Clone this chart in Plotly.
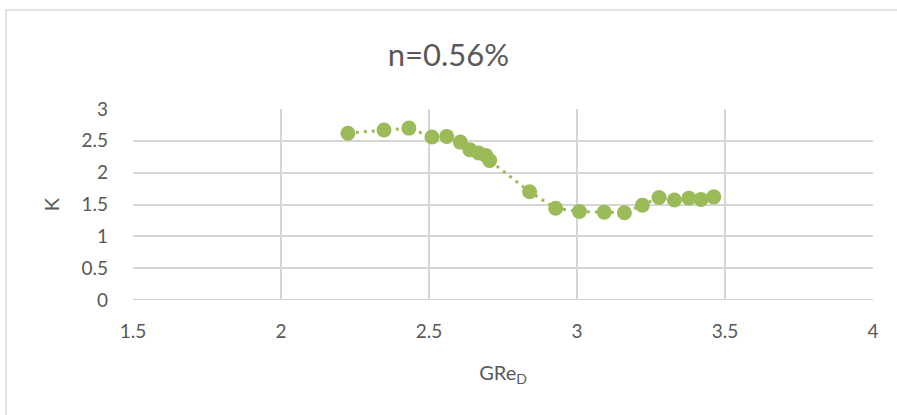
import plotly.graph_objects as go

x_vals = [2.226, 2.348, 2.432, 2.51, 2.56, 2.606, 2.638, 2.668, 2.692, 2.705, 2.84, 2.928, 3.008, 3.092, 3.16, 3.221, 3.277, 3.329, 3.378, 3.419, 3.462]
k_vals = [2.62, 2.67, 2.70, 2.56, 2.57, 2.48, 2.36, 2.31, 2.27, 2.19, 1.70, 1.44, 1.39, 1.38, 1.37, 1.49, 1.61, 1.57, 1.60, 1.58, 1.62]

x_ticks = [1.5, 2, 2.5, 3, 3.5, 4]
y_ticks = [0, 0.5, 1, 1.5, 2, 2.5, 3]

green = "#9BBB59"
font = "Lato, Open Sans, sans-serif"

fig = go.Figure()
fig.add_trace(go.Scatter(
    x=x_vals, y=k_vals, mode="lines+markers",
    line=dict(color=green, width=3, dash="3px,5px"),
    marker=dict(color=green, size=15, line=dict(width=0)),
    showlegend=False,
))

fig.update_layout(
    width=897, height=415,
    margin=dict(l=133, r=24, t=109, b=115),
    paper_bgcolor="white", plot_bgcolor="white",
    font=dict(family=font, color="#595959", size=19),
    title=dict(text="n=0.56%", x=0.5, xanchor="center", y=1 - 55 / 415, yanchor="middle",
               font=dict(family=font, size=31, color="#595959")),
    xaxis=dict(range=[1.5, 4], tickvals=x_ticks, ticktext=[str(v) for v in x_ticks],
               showgrid=True, gridcolor="#D6D6D6", gridwidth=1.5, zeroline=False,
               showline=False, ticks="", ticklabelstandoff=18,
               title=dict(text="GRe<sub>D</sub>", standoff=24, font=dict(size=20, color="#595959"))),
    yaxis=dict(range=[0, 3], tickvals=y_ticks, ticktext=[str(v) for v in y_ticks],
               showgrid=True, gridcolor="#D6D6D6", gridwidth=1.5, zeroline=False,
               showline=False, ticks="", ticklabelstandoff=24,
               title=dict(text="K", standoff=16, font=dict(size=20, color="#595959"))),
    shapes=[
        dict(type="rect", xref="paper", yref="paper", x0=-0.1716, y0=-1, x1=2, y1=1.518,
             line=dict(color="#D9D9D9", width=1.5), fillcolor="rgba(0,0,0,0)", layer="below"),
        dict(type="line", xref="paper", yref="y", x0=0, x1=1, y0=0, y1=0,
             line=dict(color="#BFBFBF", width=1.5), layer="below"),
    ],
)

fig.write_html("out.html", config={"displayModeBar": False},
               post_script="document.body.style.margin='0';")
